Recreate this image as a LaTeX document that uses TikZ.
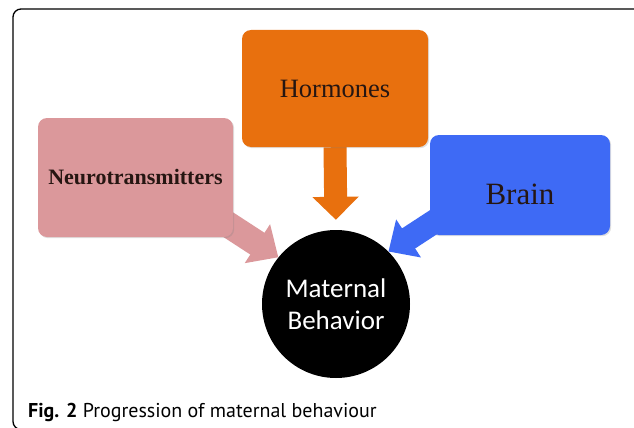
\documentclass[tikz,border=0pt]{standalone}
\usepackage{fontspec}
\setmainfont{Liberation Serif}
\newfontfamily\circfont{Carlito}
\newfontfamily\capfont{PT Sans}
\usetikzlibrary{arrows.meta,shadows,backgrounds,calc}
\definecolor{pinkc}{RGB}{219,152,155}
\definecolor{orangec}{RGB}{232,112,14}
\definecolor{bluec}{RGB}{62,106,245}
\definecolor{boxtext}{RGB}{38,22,18}
\begin{document}
\begin{tikzpicture}[x=1pt,y=-1pt,
  box/.style={rounded corners=9pt, inner sep=0pt, text=boxtext,
    drop shadow={shadow xshift=1.2pt, shadow yshift=-1.2pt, opacity=0.25}},
  ]
\useasboundingbox (0,0) rectangle (634,428);
\clip (0,0) rectangle (634,428);
\draw[line width=1.3pt, rounded corners=8pt] (13,9) rectangle (642,429.5);

\node[box, fill=pinkc, minimum width=195pt, minimum height=119pt,
      font=\fontsize{22}{24}\selectfont\bfseries] (nt) at (135.5,177.5) {Neurotransmitters};
\node[box, fill=orangec, minimum width=186pt, minimum height=117pt,
      font=\fontsize{26.5}{28}\selectfont] (horm) at (335,88.5) {Hormones};
\node[box, fill=bluec, minimum width=180pt, minimum height=100pt,
      font=\fontsize{31}{34}\selectfont] (brain) at (520,185) {\raisebox{-19.5pt}[0pt][0pt]{Brain}};
\node[circle, fill=black, minimum size=148pt, inner sep=0pt, text=white, align=center,
      font=\circfont\fontsize{27}{32}\selectfont] (mb) at (336,304) {Maternal\\Behavior};

\begin{scope}[on background layer]
\draw[draw=orangec, line width=23pt, -{Triangle[length=23pt,width=45pt]}, shorten >=10pt]
  (horm.south) -- (mb.north);
\draw[draw=pinkc, line width=26pt, -{Triangle[length=25pt,width=45pt]}]
  ($(nt.south east)+(-18,-21)$) -- (mb.141);
\draw[draw=bluec, line width=24pt, -{Triangle[length=24pt,width=44pt]}]
  ($(brain.south west)+(19,-23)$) -- (mb.45);
\end{scope}

\node[anchor=base west, inner sep=0pt, font=\capfont\fontsize{20}{22}\selectfont] (cap) at (28,417)
  {\textbf{Fig. 2} Progression of maternal behaviour};
\end{tikzpicture}
\end{document}
